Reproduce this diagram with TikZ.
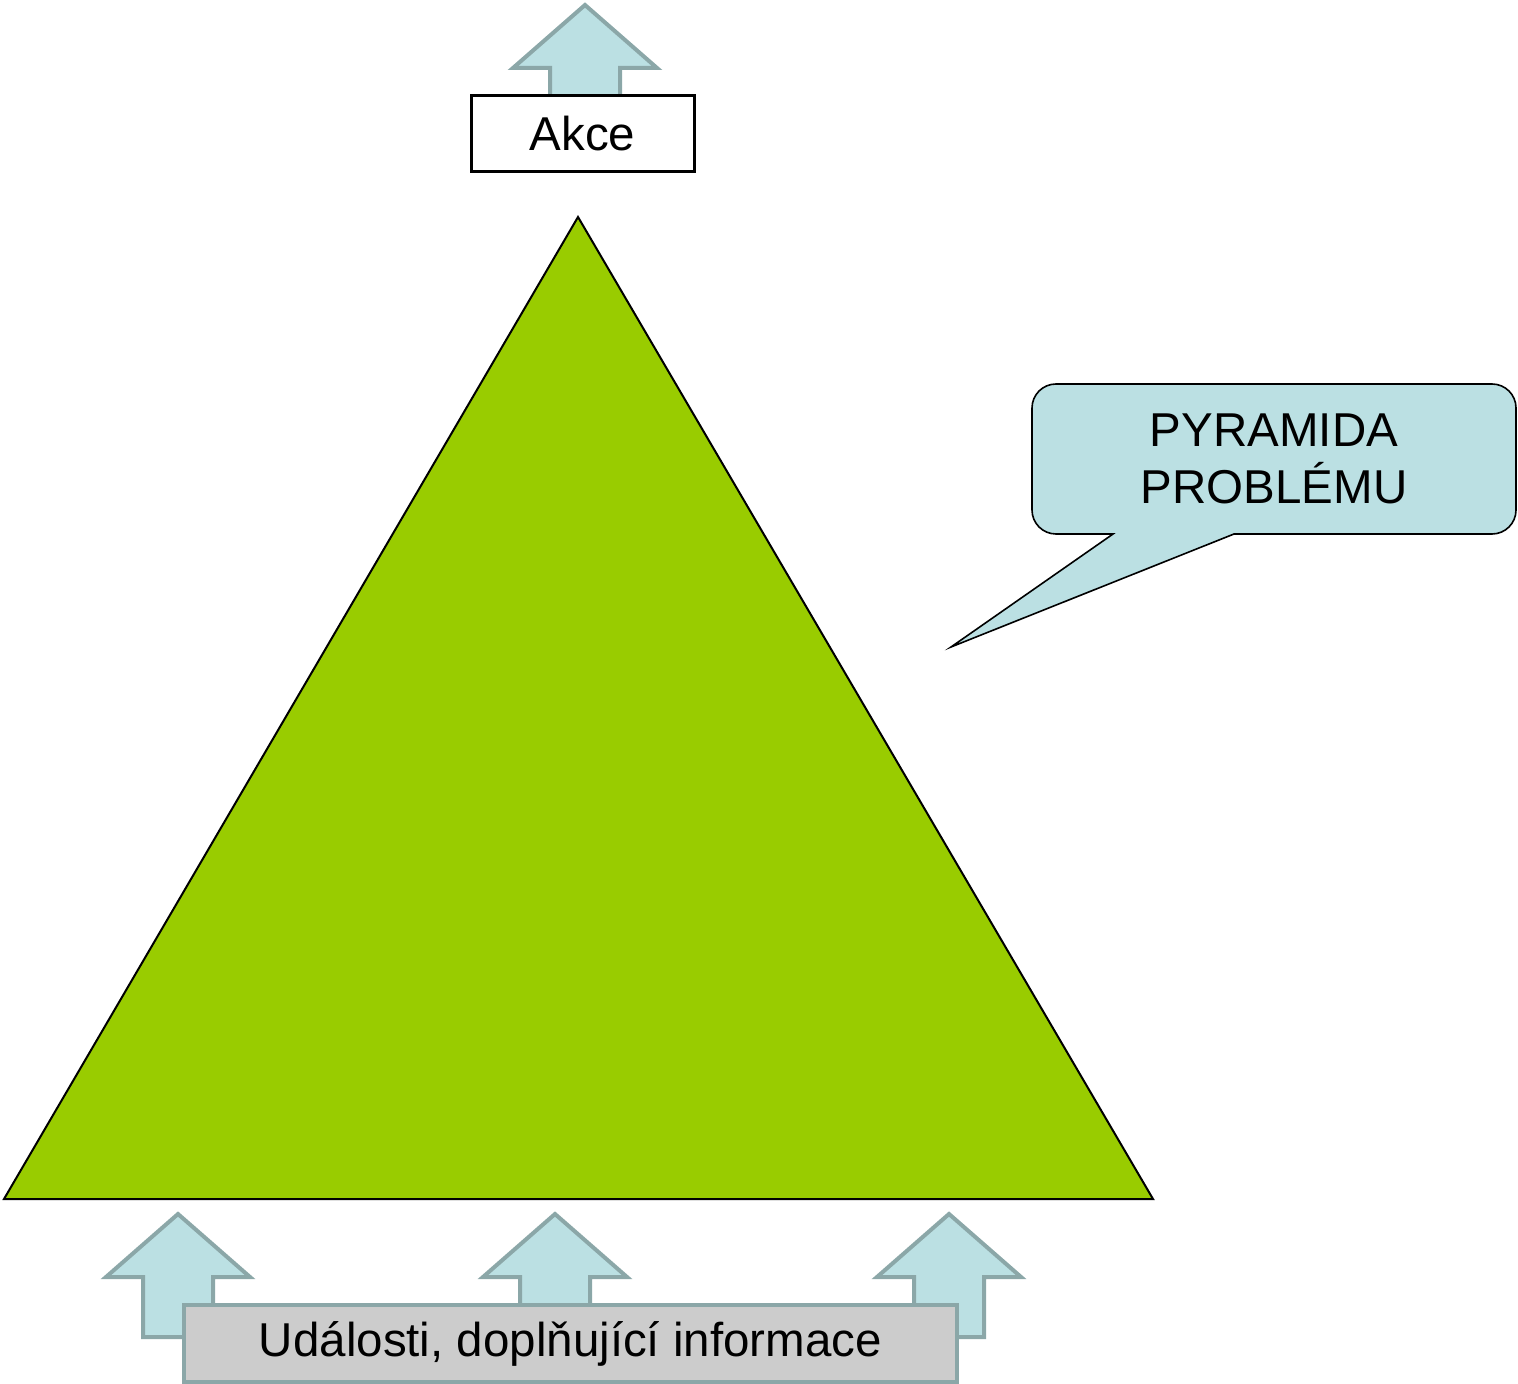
\documentclass[tikz,border=0pt]{standalone}
\usepackage{fontspec}
\setmainfont{Liberation Sans}
\usepackage{tikz}
\usetikzlibrary{positioning}
\definecolor{pyrgreen}{HTML}{99CC00}
\definecolor{arrfill}{HTML}{BBE0E3}
\definecolor{arredge}{HTML}{8BA7A8}
\definecolor{boxgray}{HTML}{CCCCCC}
\tikzset{arrowshape/.style={draw=arredge,fill=arrfill,line width=2pt,line join=miter}}
\tikzset{blockup/.pic={\path[arrowshape] (0,0) -- (72,63) -- (35,63) -- (35,123) -- (-35,123) -- (-35,63) -- (-72,63) -- cycle;}}
\tikzset{bigtext/.style={font=\fontsize{23.75}{28.5}\selectfont}}

\begin{document}
\begin{tikzpicture}[x=0.5pt,y=-0.5pt]
		\useasboundingbox (0,0) rectangle (1518,1384);
		% pyramid
		\coordinate (T) at (578,217);
		\coordinate (L) at (4,1199);
		\coordinate (R) at (1153,1199);
		\draw[fill=pyrgreen,line width=1pt,line join=miter] (T) -- (L) -- (R) -- cycle;
		% action on top
		\pic at (585,5) {blockup};
		\node[draw=black,fill=white,line width=1.5pt,minimum width=111.5pt,minimum height=38pt,inner sep=0pt,bigtext] (akce) at (582.5,134) {Akce};
		% speech bubble
		\coordinate (tip) at (951,647);
		\path[draw=black,fill=arrfill,line width=0.8pt] (1113,534) -- (tip) -- (1234,534) [rounded corners=12pt] -- (1516,534) -- (1516,384) -- (1032,384) -- (1032,534) [sharp corners] -- cycle;
		\node[align=center,bigtext] (pyramida) at (1274,459) {PYRAMIDA\\PROBLÉMU};
		% inputs at the bottom
		\pic at (178,1214) {blockup};
		\pic at (555,1214) {blockup};
		\pic at (949,1214) {blockup};
		\node[draw=arredge,fill=boxgray,line width=2pt,minimum width=386.5pt,minimum height=38.5pt,inner sep=0pt,bigtext] (udalosti) at (570.5,1343.5) {Události, doplňující informace};
	\end{tikzpicture}
\end{document}
